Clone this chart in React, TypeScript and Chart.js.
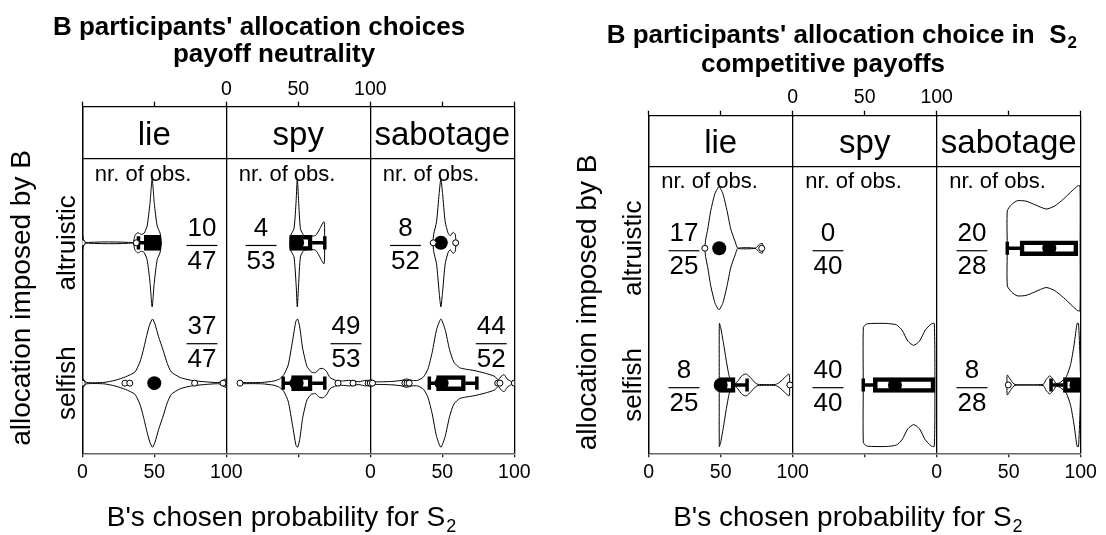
import React, { useEffect, useRef } from "react";
import { Chart, registerables } from "chart.js";

Chart.register(...registerables);

const FONT = '"Liberation Sans", Arial, Helvetica, sans-serif';

// ---------- shared categories ----------
const FACETS = ["lie", "spy", "sabotage"];
const ROWS = ["altruistic", "selfish"];
const ROW_Y = [2, 1];
const BOTTOM_TICK_LABELS = ["0", "50", "100", "", "0", "50", "100"];
const TOP_TICK_LABELS = ["", "", "0", "50", "100", "", ""];
const TICK_VALUES = [0, 50, 100, 150, 200, 250, 300];

type Prof = [number, number][];

// ---------- Panel A : payoff neutrality ----------
const A_OBS = [
  [10, 4, 8],
  [37, 49, 44],
];
const A_TOTAL = [47, 53, 52];

// violin outlines: [chosen probability, half width]
const A_LIE_ALT: Prof = [[0, 0], [0.4, 0.045], [1.5, 0], [35, 0], [36.5, 0.05], [38.5, 0.072], [41, 0.06], [43, 0.07], [45, 0.12], [47, 0.28], [48.5, 0.457], [50, 0.28], [52, 0.12], [54, 0.07], [55, 0]];
const A_SPY_ALT: Prof = [[44, 0], [44.5, 0.05], [47, 0.1], [48.5, 0.3], [49.3, 0.457], [50.2, 0.3], [51.5, 0.1], [54, 0.053], [62, 0.053], [67.8, 0.15], [68.3, 0]];
const A_SAB_ALT: Prof = [[43.5, 0], [44, 0.06], [46, 0.15], [47.8, 0.35], [49, 0.457], [50.2, 0.35], [52, 0.15], [54, 0.07], [55.5, 0.05], [57.5, 0.075], [59, 0.06], [59.5, 0]];
const A_LIE_SELF: Prof = [[0, 0], [0.5, 0.03], [3, 0.005], [15, 0.005], [22.7, 0.02], [30, 0.045], [36.5, 0.079], [40, 0.15], [42.3, 0.233], [45, 0.35], [46.9, 0.42], [48.8, 0.457], [50.5, 0.42], [53, 0.33], [56.2, 0.233], [59, 0.14], [61.9, 0.079], [68, 0.04], [75.8, 0.02], [85, 0.01], [95, 0.005], [99.5, 0.03], [100, 0]];
const A_SPY_SELF: Prof = [[8, 0], [9, 0.02], [11, 0.005], [25, 0.005], [33, 0.015], [37, 0.03], [40, 0.06], [43, 0.13], [46, 0.3], [48.3, 0.44], [49.5, 0.457], [51, 0.4], [53, 0.25], [56, 0.12], [59, 0.08], [62, 0.075], [64.5, 0.1], [67, 0.105], [69.5, 0.085], [72, 0.04], [76, 0.02], [80, 0.015], [86, 0.02], [92, 0.01], [97, 0.02], [100, 0]];
const A_SAB_SELF: Prof = [[0, 0], [0.5, 0.025], [3, 0.01], [15, 0.012], [22, 0.02], [25, 0.03], [29, 0.02], [33, 0.02], [37, 0.045], [40, 0.1], [43, 0.22], [46, 0.38], [49, 0.457], [52, 0.38], [55, 0.24], [58, 0.15], [62, 0.11], [66, 0.1], [72, 0.09], [80, 0.07], [86, 0.05], [89, 0.025], [91, 0.05], [93, 0.06], [95, 0.03], [98, 0.01], [100, 0]];

// box stats: [lower whisker, q1, q3, upper whisker]
const A_BOXES = [
  [[39, 43, 54.5, 54.5], [44, 44, 59.6, 68.4], null],
  [null, [39.5, 45.3, 59.6, 68.4], [41, 46, 66, 74]],
];
const A_DOTS = [
  [49, 49.2, 49],
  [50, 48.8, 49.5],
];
const A_OUTLIERS = [
  [[0, 37.5], [], [43.7, 59.3]],
  [[0, 29.6, 33, 78, 97.7], [9.5, 77.6, 88, 98.5, 100], [0, 1.5, 24, 25.5, 27, 88.5, 90, 100]],
];

// ---------- Panel B : competitive payoffs ----------
const B_OBS = [
  [17, 0, 20],
  [8, 40, 8],
];
const B_TOTAL = [25, 40, 28];

const B_LIE_ALT: Prof = [[39, 0], [39.5, 0.06], [41, 0.14], [43, 0.27], [46, 0.4], [48.8, 0.45], [51.5, 0.4], [54.5, 0.27], [57, 0.14], [60, 0.05], [62, 0], [74, 0], [77, 0.03], [79, 0.035], [79.3, 0]];
const B_SAB_ALT: Prof = [[49, 0], [49.05, 0.275], [52, 0.32], [56, 0.348], [62, 0.345], [68, 0.32], [76, 0.287], [82, 0.31], [88, 0.36], [94, 0.42], [98, 0.457], [99.5, 0.457], [99.6, 0]];
const B_LIE_SELF: Prof = [[49, 0], [49.05, 0.45], [50, 0.42], [52, 0.3], [54, 0.17], [56, 0.06], [58, 0.025], [60, 0.01], [62, 0.03], [65, 0.07], [67.8, 0.08], [71, 0.05], [74, 0.015], [76, 0.004], [88, 0.004], [91, 0.02], [95, 0.06], [97.5, 0.08], [98, 0]];
const B_SPY_SELF: Prof = [[49, 0], [49.05, 0.42], [51, 0.445], [55, 0.45], [65, 0.45], [72, 0.44], [76, 0.4], [80, 0.32], [84, 0.29], [88, 0.32], [92, 0.4], [96, 0.445], [98.3, 0.45], [98.8, 0]];
const B_SAB_SELF: Prof = [[48.8, 0], [49, 0.073], [51.5, 0.035], [54.4, 0.003], [74, 0.005], [76, 0.04], [78.5, 0.066], [81, 0.04], [83, 0.01], [86, 0.02], [90, 0.06], [93, 0.15], [95.5, 0.3], [97.5, 0.45], [98.5, 0.45], [99.5, 0.2], [100, 0]];

const B_BOXES = [
  [null, null, [49, 57.9, 98, 98]],
  [[49, 49.5, 60, 68.3], [49, 56, 98.8, 98.8], [79.4, 88, 99.5, 99.5]],
];
const B_DOTS = [
  [49, null, 78.2],
  [50, 71, 97],
];
const B_OUTLIERS = [
  [[39, 78.5], [], []],
  [[98], [], [49.7]],
];

// ---------- layout (not data) ----------
type Layout = {
  offsetX: number;
  area: { left: number; right: number; top: number; bottom: number };
  title: { text: string; sub: string | null; cx: number; base: number }[];
  fracX: number[][]; // facet-relative position of fraction
  fracY: number[]; // y value of fraction bar per row
  topPad: number;
};

const W = 553;
const H = 535;

const LAYOUT_A: Layout = {
  offsetX: 0,
  area: { left: 82.3, right: 514.3, top: 106.7, bottom: 453.3 },
  title: [
    { text: "B participants' allocation choices", sub: null, cx: 259, base: 34.5 },
    { text: "payoff neutrality", sub: null, cx: 274, base: 62 },
  ],
  fracX: [
    [83.1, 24.1, 24.4],
    [83.1, 83.1, 84],
  ],
  fracY: [1.981, 1.281],
  topPad: 0,
};

const LAYOUT_B: Layout = {
  offsetX: 553,
  area: { left: 95.7, right: 527.7, top: 115.7, bottom: 453.3 },
  title: [
    { text: "B participants' allocation choice in  S", sub: "2", cx: 288.3, base: 43 },
    { text: "competitive payoffs", sub: null, cx: 270, base: 72 },
  ],
  fracX: [
    [24.5, 24.5, 24.5],
    [24.5, 24.5, 24.5],
  ],
  fracY: [1.982, 0.98],
  topPad: 1,
};

type PanelData = {
  violins: (Prof | null)[][];
  boxes: (number[] | null)[][];
  dots: (number | null)[][];
  outliers: number[][][];
  obs: number[][];
  totals: number[];
};

const PANEL_A: PanelData = {
  violins: [
    [A_LIE_ALT, A_SPY_ALT, A_SAB_ALT],
    [A_LIE_SELF, A_SPY_SELF, A_SAB_SELF],
  ],
  boxes: A_BOXES,
  dots: A_DOTS,
  outliers: A_OUTLIERS,
  obs: A_OBS,
  totals: A_TOTAL,
};

const PANEL_B: PanelData = {
  violins: [
    [B_LIE_ALT, null, B_SAB_ALT],
    [B_LIE_SELF, B_SPY_SELF, B_SAB_SELF],
  ],
  boxes: B_BOXES,
  dots: B_DOTS,
  outliers: B_OUTLIERS,
  obs: B_OBS,
  totals: B_TOTAL,
};

function font(size: number, bold = false) {
  return `${bold ? "bold " : ""}${size}px ${FONT}`;
}

function drawSubText(ctx: CanvasRenderingContext2D, main: string, sub: string | null, cx: number, base: number, size: number, bold: boolean) {
  ctx.font = font(size, bold);
  const wMain = ctx.measureText(main).width;
  let wSub = 0;
  const subSize = Math.round(size * 0.66);
  if (sub) {
    ctx.font = font(subSize, bold);
    wSub = ctx.measureText(sub).width;
  }
  const start = cx - (wMain + wSub) / 2;
  ctx.textAlign = "left";
  ctx.textBaseline = "alphabetic";
  ctx.font = font(size, bold);
  ctx.fillText(main, start, base);
  if (sub) {
    ctx.font = font(subSize, bold);
    ctx.fillText(sub, start + wMain + 1, base + size * 0.2);
  }
}

function makeAnnotPlugin(layout: Layout, panel: PanelData) {
  return {
    id: "annot",
    afterDraw(chart: any) {
      const ctx: CanvasRenderingContext2D = chart.ctx;
      const xs = chart.scales.x;
      const ys = chart.scales.y;
      const ca = chart.chartArea;
      ctx.save();
      ctx.fillStyle = "#000";
      ctx.strokeStyle = "#000";

      // titles
      layout.title.forEach((t) => drawSubText(ctx, t.text, t.sub, t.cx, t.base, 26, true));

      // strip labels
      const stripTop = ca.top;
      const stripBottom = ys.getPixelForValue(2.6);
      ctx.font = font(33);
      ctx.textAlign = "center";
      ctx.textBaseline = "alphabetic";
      FACETS.forEach((f, i) => {
        ctx.fillText(f, xs.getPixelForValue(i * 100 + 50), (stripTop + stripBottom) / 2 + 12);
      });

      // nr. of obs.
      ctx.font = font(22);
      ctx.textAlign = "left";
      FACETS.forEach((_, i) => {
        ctx.fillText("nr. of obs.", xs.getPixelForValue(i * 100 + 8.7), ys.getPixelForValue(2.438));
      });

      // fractions
      ctx.font = font(26);
      ctx.textAlign = "center";
      ROWS.forEach((_, r) => {
        FACETS.forEach((__, f) => {
          const cx = xs.getPixelForValue(f * 100 + layout.fracX[r][f]);
          const ly = ys.getPixelForValue(layout.fracY[r]);
          const num = String(panel.obs[r][f]);
          const den = String(panel.totals[f]);
          ctx.fillText(num, cx, ly - 9.5);
          ctx.fillText(den, cx, ly + 23.5);
          const w = Math.max(ctx.measureText(num).width, ctx.measureText(den).width) + 2;
          ctx.lineWidth = 1.2;
          ctx.beginPath();
          ctx.moveTo(cx - w / 2, ly);
          ctx.lineTo(cx + w / 2, ly);
          ctx.stroke();
        });
      });

      // row labels
      ctx.font = font(26);
      ctx.textAlign = "center";
      ctx.textBaseline = "middle";
      ROWS.forEach((lab, r) => {
        ctx.save();
        ctx.translate(ca.left - 14.5, ys.getPixelForValue(ROW_Y[r]));
        ctx.rotate(-Math.PI / 2);
        ctx.fillText(lab, 0, 0);
        ctx.restore();
      });

      // y axis title
      ctx.font = font(28);
      ctx.save();
      ctx.translate(ca.left - 60, (ca.top + ca.bottom) / 2 + 18);
      ctx.rotate(-Math.PI / 2);
      ctx.textAlign = "center";
      ctx.textBaseline = "middle";
      ctx.fillText("allocation imposed by B", 0, 0);
      ctx.restore();

      // x axis title
      drawSubText(ctx, "B's chosen probability for S", "2", ca.left + 198.7, 526, 28, false);

      ctx.restore();
    },
  };
}

function buildDatasets(panel: PanelData) {
  const ds: any[] = [];
  const common = { xAxisID: "x", yAxisID: "y" };

  // violins
  panel.violins.forEach((row, r) =>
    row.forEach((prof, f) => {
      if (!prof) return;
      const off = f * 100;
      const yc = ROW_Y[r];
      const up = prof.map(([v, h]) => ({ x: off + v, y: yc + h }));
      const lo = prof
        .slice()
        .reverse()
        .map(([v, h]) => ({ x: off + v, y: yc - h }));
      ds.push({
        ...common,
        type: "scatter",
        data: [...up, ...lo, up[0]],
        showLine: true,
        borderColor: "#000",
        borderWidth: 1,
        pointRadius: 0,
        tension: 0.2,
        fill: false,
        order: 6,
      });
    })
  );

  // boxes
  const boxData: any[] = [];
  const whiskers: { x: number; y: number }[][] = [];
  const caps: { x: number; y: number }[][] = [];
  panel.boxes.forEach((row, r) =>
    row.forEach((b, f) => {
      if (!b) return;
      const off = f * 100;
      const yc = ROW_Y[r];
      const [wl, q1, q3, wh] = b;
      boxData.push({ x: [off + q1, off + q3], y: yc });
      if (wl < q1) {
        whiskers.push([{ x: off + wl, y: yc }, { x: off + q1, y: yc }]);
        caps.push([{ x: off + wl, y: yc - 0.047 }, { x: off + wl, y: yc + 0.047 }]);
      }
      if (wh > q3) {
        whiskers.push([{ x: off + q3, y: yc }, { x: off + wh, y: yc }]);
        caps.push([{ x: off + wh, y: yc - 0.047 }, { x: off + wh, y: yc + 0.047 }]);
      }
    })
  );
  ds.push({
    ...common,
    type: "bar",
    indexAxis: "y",
    grouped: false,
    data: boxData,
    backgroundColor: "#fff",
    borderColor: "#000",
    borderWidth: 4.5,
    borderSkipped: false,
    maxBarThickness: 15,
    barPercentage: 1,
    categoryPercentage: 1,
    order: 4,
  });
  whiskers.forEach((seg) =>
    ds.push({ ...common, type: "scatter", data: seg, showLine: true, borderColor: "#000", borderWidth: 3.5, pointRadius: 0, order: 5 })
  );
  caps.forEach((seg) =>
    ds.push({ ...common, type: "scatter", data: seg, showLine: true, borderColor: "#000", borderWidth: 3.5, pointRadius: 0, borderCapStyle: "butt", order: 3 })
  );

  // dots
  const dotData: any[] = [];
  panel.dots.forEach((row, r) =>
    row.forEach((d, f) => {
      if (d === null) return;
      dotData.push({ x: f * 100 + d, y: ROW_Y[r] });
    })
  );
  ds.push({ ...common, type: "scatter", data: dotData, pointRadius: 7, pointBackgroundColor: "#000", pointBorderWidth: 0, order: 2 });

  // outliers
  const outData: any[] = [];
  panel.outliers.forEach((row, r) =>
    row.forEach((list, f) => list.forEach((v) => outData.push({ x: f * 100 + v, y: ROW_Y[r] })))
  );
  ds.push({
    ...common,
    type: "scatter",
    data: outData,
    pointRadius: 3,
    pointBackgroundColor: "#fff",
    pointBorderColor: "#000",
    pointBorderWidth: 1,
    order: 1,
  });
  return ds;
}

function makeConfig(layout: Layout, panel: PanelData): any {
  const a = layout.area;
  const isFacetEdge = (v: number) => v % 100 === 0;
  return {
    type: "scatter",
    data: { datasets: buildDatasets(panel) },
    options: {
      animation: false,
      responsive: false,
      maintainAspectRatio: false,
      events: [],
      layout: {
        padding: { left: 0, right: W - a.right, top: a.top - 30, bottom: H - a.bottom - 40 },
      },
      plugins: { legend: { display: false }, tooltip: { enabled: false }, title: { display: false } },
      scales: {
        x: {
          type: "linear",
          position: "bottom",
          min: 0,
          max: 300,
          offset: false,
          beginAtZero: false,
          afterBuildTicks: (s: any) => {
            s.ticks = TICK_VALUES.map((v) => ({ value: v }));
          },
          afterFit: (s: any) => {
            s.height = 40;
          },
          ticks: {
            callback: (_v: any, i: number) => BOTTOM_TICK_LABELS[i],
            font: { family: FONT, size: 19.5 },
            color: "#000",
            padding: 4,
            maxRotation: 0,
            autoSkip: false,
          },
          grid: {
            offset: false,
            color: (c: any) => (c.tick && isFacetEdge(c.tick.value) ? "#000" : "rgba(0,0,0,0)"),
            lineWidth: 1.3,
            tickColor: "#222",
            tickLength: 4,
            tickWidth: 1.3,
          },
          border: { color: "#666", width: 1.6 },
        },
        xTop: {
          type: "linear",
          axis: "x",
          position: "top",
          min: 0,
          max: 300,
          offset: false,
          afterBuildTicks: (s: any) => {
            s.ticks = TICK_VALUES.map((v) => ({ value: v }));
          },
          afterFit: (s: any) => {
            s.height = 30;
          },
          ticks: {
            callback: (_v: any, i: number) => TOP_TICK_LABELS[i],
            font: { family: FONT, size: 19.5 },
            color: "#000",
            padding: layout.topPad,
            maxRotation: 0,
            autoSkip: false,
          },
          grid: { offset: false, drawOnChartArea: false, tickColor: "#000", tickLength: 5, tickWidth: 1.3 },
          border: { color: "#000", width: 1.3 },
        },
        y: {
          type: "linear",
          position: "left",
          min: 0.5,
          max: 2.97,
          offset: false,
          grace: 0,
          afterBuildTicks: (s: any) => {
            s.ticks = [{ value: 2.6 }];
          },
          afterFit: (s: any) => {
            s.width = a.left;
          },
          ticks: { display: false },
          grid: { offset: false, color: "#000", lineWidth: 1.3, drawTicks: false },
          border: { color: "#000", width: 1.3 },
        },
      },
    },
    plugins: [makeAnnotPlugin(layout, panel)],
  };
}

export default function App() {
  const refA = useRef<HTMLCanvasElement | null>(null);
  const refB = useRef<HTMLCanvasElement | null>(null);

  useEffect(() => {
    const charts: Chart[] = [];
    if (refA.current) charts.push(new Chart(refA.current, makeConfig(LAYOUT_A, PANEL_A)));
    if (refB.current) charts.push(new Chart(refB.current, makeConfig(LAYOUT_B, PANEL_B)));
    return () => charts.forEach((c) => c.destroy());
  }, []);

  return (
    <div style={{ position: "absolute", left: 0, top: 0, width: 1106, height: 535, background: "#fff" }}>
      <canvas ref={refA} width={W} height={H} style={{ position: "absolute", left: LAYOUT_A.offsetX, top: 0, width: W, height: H }} />
      <canvas ref={refB} width={W} height={H} style={{ position: "absolute", left: LAYOUT_B.offsetX, top: 0, width: W, height: H }} />
    </div>
  );
}
